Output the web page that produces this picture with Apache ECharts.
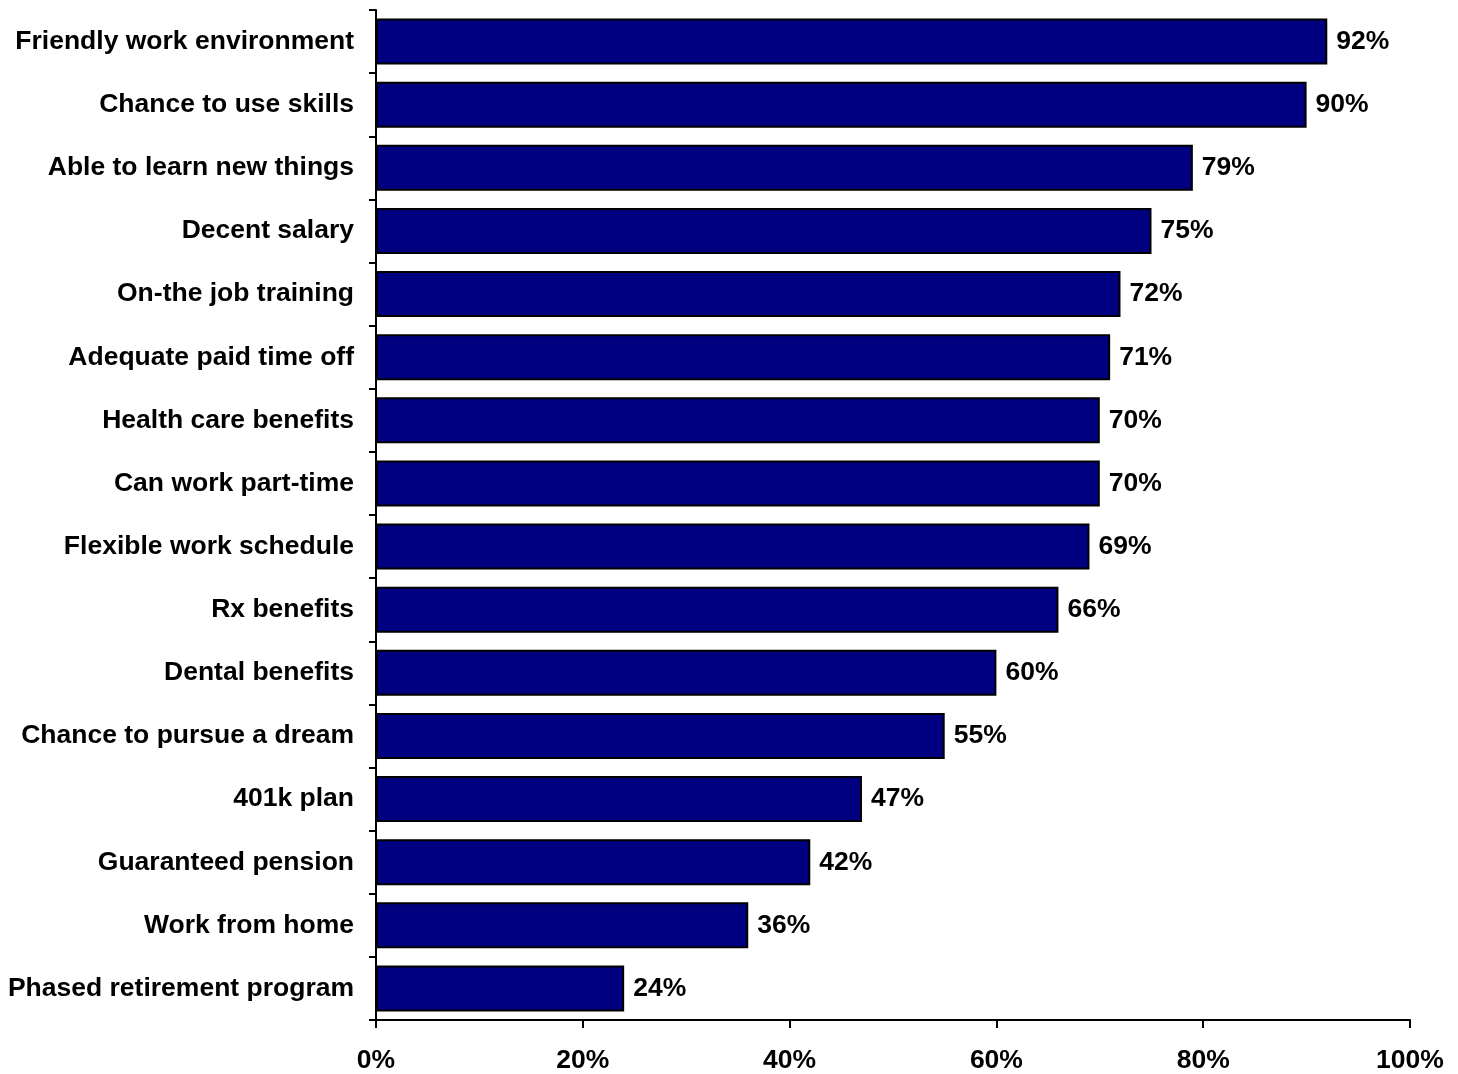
<!DOCTYPE html>
<html>
<head>
<meta charset="utf-8">
<script src="https://cdn.jsdelivr.net/npm/echarts@6/dist/echarts.min.js"></script>
<style>
html,body{margin:0;padding:0;background:#fff;}
#chart{width:1458px;height:1074px;}
</style>
</head>
<body>
<div id="chart"></div>
<script>
const categories = [
  "Friendly work environment",
  "Chance to use skills",
  "Able to learn new things",
  "Decent salary",
  "On-the job training",
  "Adequate paid time off",
  "Health care benefits",
  "Can work part-time",
  "Flexible work schedule",
  "Rx benefits",
  "Dental benefits",
  "Chance to pursue a dream",
  "401k plan",
  "Guaranteed pension",
  "Work from home",
  "Phased retirement program"
];
const values = [92, 90, 79, 75, 72, 71, 70, 70, 69, 66, 60, 55, 47, 42, 36, 24];
const xTicks = [0, 20, 40, 60, 80, 100];

const font = '"Liberation Sans", Arial, sans-serif';
const chart = echarts.init(document.getElementById('chart'), null, {renderer: 'canvas'});
chart.setOption({
  animation: false,
  backgroundColor: '#ffffff',
  grid: {left: 376, right: 48, top: 10, bottom: 53, containLabel: false},
  xAxis: {
    type: 'value',
    min: xTicks[0],
    max: xTicks[xTicks.length - 1],
    interval: xTicks[1] - xTicks[0],
    axisLine: {show: true, lineStyle: {color: '#000', width: 2}},
    axisTick: {show: true, inside: false, length: 8, lineStyle: {color: '#000', width: 2}},
    splitLine: {show: false},
    axisLabel: {
      formatter: v => v + '%',
      color: '#000', fontFamily: font, fontWeight: 'bold', fontSize: 26.5, margin: 27
    }
  },
  yAxis: {
    type: 'category',
    data: categories,
    inverse: true,
    axisLine: {show: true, lineStyle: {color: '#000', width: 2}},
    axisTick: {show: true, inside: false, length: 7, alignWithLabel: false, lineStyle: {color: '#000', width: 2}},
    axisLabel: {color: '#000', fontFamily: font, fontWeight: 'bold', fontSize: 26.5, margin: 22}
  },
  series: [{
    type: 'bar',
    data: values,
    barCategoryGap: '27%',
    itemStyle: {color: '#000080', borderColor: '#000', borderWidth: 2},
    label: {
      show: true, position: 'right', distance: 9,
      formatter: p => p.value + '%',
      color: '#000', fontFamily: font, fontWeight: 'bold', fontSize: 26.5
    }
  }]
});
</script>
</body>
</html>
